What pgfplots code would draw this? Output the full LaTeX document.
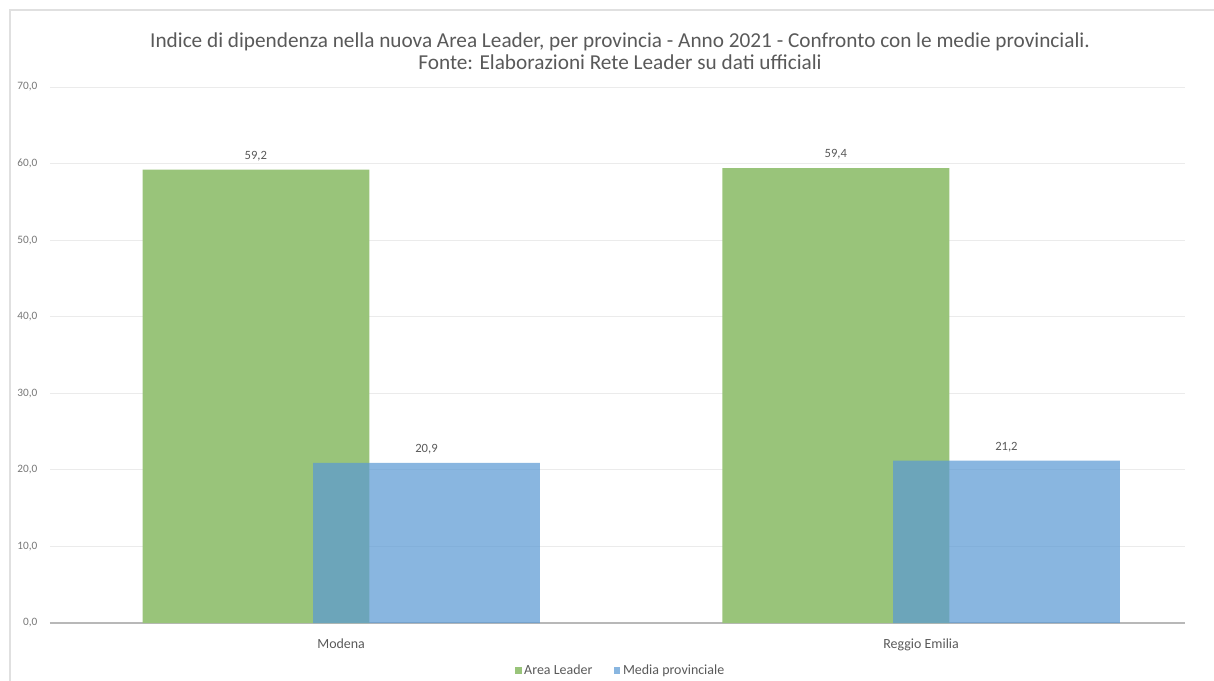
\documentclass[border=0pt]{standalone}
\usepackage{pgfplots}
\pgfplotsset{compat=1.18}
\usepackage{fontspec}
\setmainfont{Carlito}
\definecolor{gr}{RGB}{153,196,122}
\definecolor{bl}{RGB}{92,154,212}
\definecolor{txt}{RGB}{89,89,89}
\definecolor{tck}{RGB}{120,120,120}
\begin{document}
\begin{tikzpicture}[x=0.75bp,y=0.75bp]
\path[use as bounding box] (-50,-57) rectangle (1164,623);
\draw[black!12, line width=0.8bp] (-40,613) rectangle (1180,-70);
\node[text=txt, font=\fontsize{16}{19}\selectfont] at (570,581) {Indice di dipendenza nella nuova Area Leader, per provincia - Anno 2021 - Confronto con le medie provinciali.};
\node[text=txt, font=\fontsize{16}{19}\selectfont] at (570,561) {Fonte: Elaborazioni Rete Leader su dati ufficiali};
\begin{axis}[at={(0,0)}, anchor=south west, scale only axis,
  width=851.25bp, height=402bp,
  xmin=-0.502, xmax=1.455, ymin=0, ymax=70,
  ytick={0,10,...,70},
  xtick={0,1}, xticklabels={Modena, Reggio Emilia},
  axis x line*=bottom, axis y line*=left,
  y axis line style={draw=none},
  x axis line style={draw=black!28, line width=0.8bp},
  tick style={draw=none},
  ymajorgrids, grid style={black!8, line width=0.6bp},
  /pgf/number format/assume math mode=true,
  yticklabel style={/pgf/number format/.cd, use comma, fixed, fixed zerofill, precision=1, /tikz/.cd, font=\fontsize{8.5}{10}\selectfont, text=tck, xshift=-6bp},
  xticklabel style={font=\fontsize{10.5}{12}\selectfont, text=txt, yshift=-8.5bp},
  bar width=0.391,
  nodes near coords,
  nodes near coords style={/pgf/number format/.cd, use comma, fixed, fixed zerofill, precision=1, /tikz/.cd, font=\fontsize{9.5}{11}\selectfont, text=txt, yshift=3bp},
  legend style={at={(0.503,-0.088)}, anchor=center, draw=none, fill=none, legend columns=2, font=\fontsize{10.5}{12}\selectfont, text=txt, /tikz/every even column/.append style={column sep=14bp}},
  legend image code/.code={\fill[#1] (0bp,-2.5bp) rectangle (5bp,2.5bp);},
]
\addplot[ybar, fill=gr, draw=none, bar shift=-0.147, every node near coord/.append style={xshift=-64bp}] coordinates {(0,59.2) (1,59.4)};
\addlegendentry{Area Leader}
\addplot[ybar, fill=bl, fill opacity=0.72, text opacity=1, draw=none, bar shift=0.147, every node near coord/.append style={xshift=64bp}] coordinates {(0,20.9) (1,21.2)};
\addlegendentry{Media provinciale}
\end{axis}
\end{tikzpicture}
\end{document}
